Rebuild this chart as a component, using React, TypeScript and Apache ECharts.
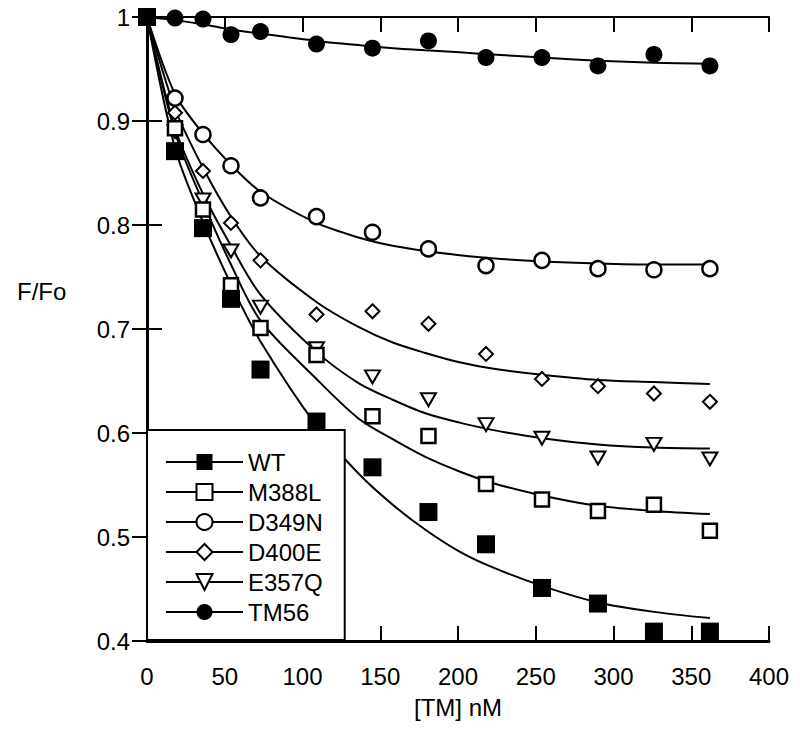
import React, { useEffect, useRef } from "react";
import * as echarts from "echarts";

// ---- data ----
const SAMPLE_NAMES = ["WT", "M388L", "D349N", "D400E", "E357Q", "TM56"];

// measured concentrations [TM] nM
const TM_NM = [0, 18, 36, 54, 73, 109, 145, 181, 218, 254, 290, 326, 362];

const WT_OBS = [1.0, 0.871, 0.797, 0.729, 0.661, 0.611, 0.567, 0.524, 0.493, 0.451, 0.436, 0.409, 0.409];
const M388L_OBS = [1.0, 0.893, 0.815, 0.742, 0.701, 0.675, 0.616, 0.597, 0.551, 0.536, 0.525, 0.531, 0.506];
const D349N_OBS = [1.0, 0.922, 0.887, 0.857, 0.826, 0.808, 0.793, 0.777, 0.761, 0.766, 0.758, 0.757, 0.758];
const D400E_OBS = [1.0, 0.908, 0.852, 0.802, 0.766, 0.714, 0.717, 0.705, 0.676, 0.652, 0.645, 0.638, 0.63];
const E357Q_OBS = [1.0, 0.89, 0.824, 0.775, 0.721, 0.681, 0.654, 0.632, 0.608, 0.595, 0.576, 0.589, 0.575];
const TM56_OBS = [1.0, 0.999, 0.998, 0.983, 0.986, 0.974, 0.97, 0.977, 0.961, 0.961, 0.953, 0.964, 0.953];

// fitted curves
const FIT_X = [0, 18, 36, 54, 73, 109, 136, 158, 179, 201, 222, 254, 290, 326, 362];
const WT_FIT = [1.0, 0.874, 0.803, 0.743, 0.688, 0.607, 0.561, 0.531, 0.507, 0.486, 0.471, 0.453, 0.437, 0.428, 0.422];
const M388L_FIT = [1.0, 0.889, 0.822, 0.762, 0.708, 0.652, 0.614, 0.594, 0.577, 0.563, 0.552, 0.540, 0.530, 0.525, 0.522];
const D349N_FIT = [1.0, 0.926, 0.888, 0.858, 0.832, 0.802, 0.788, 0.780, 0.775, 0.771, 0.768, 0.765, 0.763, 0.762, 0.762];
const D400E_FIT = [1.0, 0.912, 0.855, 0.808, 0.770, 0.726, 0.702, 0.687, 0.677, 0.668, 0.662, 0.656, 0.651, 0.649, 0.647];
const E357Q_FIT = [1.0, 0.893, 0.83, 0.78, 0.733, 0.678, 0.648, 0.632, 0.619, 0.610, 0.603, 0.595, 0.589, 0.586, 0.585];
const TM56_FIT = [1.0, 0.997, 0.993, 0.988, 0.984, 0.977, 0.973, 0.970, 0.968, 0.966, 0.964, 0.961, 0.958, 0.956, 0.955];

const OBS = [WT_OBS, M388L_OBS, D349N_OBS, D400E_OBS, E357Q_OBS, TM56_OBS];
const FITS = [WT_FIT, M388L_FIT, D349N_FIT, D400E_FIT, E357Q_FIT, TM56_FIT];

// ---- styles ----
const FONT = "'Liberation Sans', Arial, Helvetica, sans-serif";
const DOWN_TRI = "path://M0,0L20,0L10,17Z";
const MARKERS = [
  { symbol: "rect", size: 18, fill: "#000", border: 0 },
  { symbol: "rect", size: 14, fill: "#fff", border: 2.5 },
  { symbol: "circle", size: 15, fill: "#fff", border: 2.5 },
  { symbol: "diamond", size: 14, fill: "#fff", border: 2 },
  { symbol: DOWN_TRI, size: [15, 13], fill: "#fff", border: 2 },
  { symbol: "circle", size: 17, fill: "#000", border: 0 },
];

export default function App() {
  const ref = useRef<HTMLDivElement>(null);

  useEffect(() => {
    if (!ref.current) return;
    const chart = echarts.init(ref.current, null, { renderer: "svg" });

    const lineSeries = SAMPLE_NAMES.map((name, i) => ({
      type: "line",
      name,
      data: FIT_X.map((x, j) => [x, FITS[i][j]]),
      symbol: MARKERS[i].symbol,
      symbolSize: MARKERS[i].size,
      showSymbol: false,
      smooth: 0.3,
      lineStyle: { color: "#000", width: 2 },
      itemStyle: { color: MARKERS[i].fill, borderColor: "#000", borderWidth: MARKERS[i].border },
      clip: false,
      silent: true,
      z: 2,
    }));

    const order = [5, 4, 3, 2, 1, 0];
    const scatterSeries = order.map((i) => ({
      type: "scatter",
      name: SAMPLE_NAMES[i],
      data: TM_NM.map((x, j) => [x, OBS[i][j]]),
      symbol: MARKERS[i].symbol,
      symbolSize: MARKERS[i].size,
      itemStyle: {
        color: MARKERS[i].fill,
        borderColor: "#000",
        borderWidth: MARKERS[i].border,
        opacity: 1,
      },
      clip: false,
      silent: true,
      z: 3,
    }));

    const axisCommonX = {
      type: "value",
      min: 0,
      max: 400,
      interval: 50,
      splitLine: { show: false },
    };
    const axisCommonY = {
      type: "value",
      min: 0.4,
      max: 1,
      interval: 0.1,
      splitLine: { show: false },
    };

    const option: any = {
      animation: false,
      backgroundColor: "#fff",
      textStyle: { fontFamily: FONT, color: "#000" },
      grid: {
        left: 147,
        right: 31,
        top: 17,
        bottom: 95,
        containLabel: false,
        outerBoundsMode: "none",
      },
      graphic: [
        {
          type: "text",
          left: 17,
          top: 279,
          style: { text: "F/Fo", fontSize: 24, fill: "#000", fontFamily: FONT },
        },
      ],
      xAxis: [
        {
          ...axisCommonX,
          position: "bottom",
          name: "[TM] nM",
          nameLocation: "middle",
          nameGap: 54,
          nameTextStyle: { fontSize: 24, color: "#000", fontFamily: FONT },
          axisLine: { show: true, lineStyle: { color: "#000", width: 3 } },
          axisTick: { show: true, inside: true, length: 15, lineStyle: { color: "#000", width: 2 } },
          axisLabel: { fontSize: 24, color: "#000", margin: 23, fontFamily: FONT },
        },
        {
          ...axisCommonX,
          position: "top",
          axisLine: { show: true, lineStyle: { color: "#000", width: 2 } },
          axisTick: { show: true, inside: true, length: 15, lineStyle: { color: "#000", width: 2 } },
          axisLabel: { show: false },
        },
      ],
      yAxis: [
        {
          ...axisCommonY,
          position: "left",
          axisLine: { show: true, lineStyle: { color: "#000", width: 3 } },
          axisTick: { show: true, inside: true, length: 15, lineStyle: { color: "#000", width: 2 } },
          axisLabel: { fontSize: 24, color: "#000", margin: 17, fontFamily: FONT },
        },
        {
          ...axisCommonY,
          position: "right",
          axisLine: { show: true, lineStyle: { color: "#000", width: 3 } },
          axisTick: { show: true, inside: true, length: 15, lineStyle: { color: "#000", width: 2 } },
          axisLabel: { show: false },
        },
      ],
      legend: {
        orient: "vertical",
        left: 147,
        top: 430,
        padding: [20, 22, 16, 18],
        itemWidth: 77,
        itemHeight: 20,
        itemGap: 6,
        backgroundColor: "#fff",
        borderColor: "#000",
        borderWidth: 2,
        borderRadius: 0,
        selectedMode: false,
        textStyle: { fontSize: 24, color: "#000", fontFamily: FONT },
        data: SAMPLE_NAMES.map((name, i) => ({
          name,
          itemStyle: {
            color: MARKERS[i].fill,
            borderColor: "#000",
            borderWidth: MARKERS[i].border ? 2 : 0,
          },
          lineStyle: { color: "#000", width: 2 },
        })),
      },
      series: [...lineSeries, ...scatterSeries],
    };

    chart.setOption(option);
    return () => chart.dispose();
  }, []);

  return (
    <div
      ref={ref}
      style={{ position: "absolute", left: 0, top: 0, width: 800, height: 736, background: "#fff" }}
    />
  );
}
